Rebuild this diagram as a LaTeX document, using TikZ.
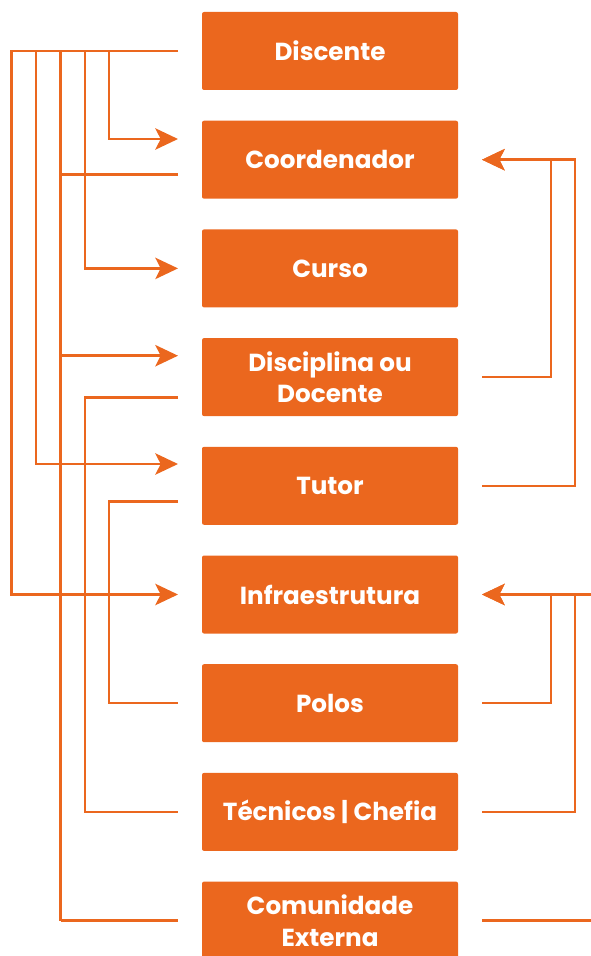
\documentclass[tikz,border=0pt]{standalone}
\usepackage{fontspec}
\setmainfont{Poppins}
\usepackage{tikz}
\usetikzlibrary{arrows.meta}
\definecolor{laranja}{RGB}{235,103,30}

\begin{document}
\begin{tikzpicture}[x=0.75pt,y=0.75pt,yscale=-1,xscale=1,
  caixa/.style={fill=laranja,rounded corners=1.5pt,text=white,font=\bfseries\fontsize{18.5}{23.5}\selectfont,
    minimum width=192pt,minimum height=58.5pt,align=center,inner sep=0pt,outer xsep=18pt,outer ysep=0pt},
  liga/.style={draw=laranja,line width=1.9pt},
  seta/.style={liga,-{Stealth[length=17pt,width=16pt,inset=4pt]}}]
\useasboundingbox (0,0) rectangle (591,956);
% caixas
\node[caixa] (dis) at (330,51) {Discente};
\node[caixa] (coo) at (330,159.7) {Coordenador};
\node[caixa] (cur) at (330,268.4) {Curso};
\node[caixa] (dsc) at (330,377.1) {Disciplina ou\\Docente};
\node[caixa] (tut) at (330,485.8) {Tutor};
\node[caixa] (inf) at (330,594.5) {Infraestrutura};
\node[caixa] (pol) at (330,703.2) {Polos};
\node[caixa] (tec) at (330,811.9) {Técnicos | Chefia};
\node[caixa] (com) at (330,920.6) {Comunidade\\Externa};
% barramentos
\coordinate (xa) at (11.5,0);
\coordinate (xb) at (36,0);
\coordinate (xc) at (60.5,0);
\coordinate (xd) at (85,0);
\coordinate (xe) at (109,0);
\coordinate (xf) at (551,0);
\coordinate (xg) at (575,0);
\coordinate (borda) at (591,0);
% pontos de chegada e saida deslocados
\coordinate (coo-in) at (coo.west |- 0,139);
\coordinate (coo-out) at (coo.west |- 0,174.3);
\coordinate (dsc-in) at (dsc.west |- 0,355.7);
\coordinate (dsc-out) at (dsc.west |- 0,397.7);
\coordinate (tut-in) at (tut.west |- 0,464);
\coordinate (tut-out) at (tut.west |- 0,501.3);
% lado esquerdo
\draw[seta] (dis.west) -- (dis.west -| xa) |- (inf.west);
\draw[seta] (dis.west -| xb) |- (tut-in);
\draw[liga] (dis.west -| xc) -- (com.west -| xc);
\draw[seta] (dsc-in -| xc) -- (dsc-in);
\draw[liga] (coo-out) -- (coo-out -| xc);
\draw[liga] (com.west -| xc) -- (com.west);
\draw[seta] (dis.west -| xd) |- (cur.west);
\draw[seta] (dis.west -| xe) |- (coo-in);
\draw[liga] (dsc-out) -| (xd |- tec.west) -- (tec.west);
\draw[liga] (tut-out) -| (xe |- pol.west) -- (pol.west);
% lado direito
\draw[seta] (dsc.east) -| (xf |- coo.east) -- (coo.east);
\draw[seta] (tut.east) -| (xg |- coo.east) -- (coo.east);
\draw[seta] (pol.east) -| (xf |- inf.east) -- (inf.east);
\draw[seta] (tec.east) -| (xg |- inf.east) -- (inf.east);
\draw[liga] (inf.east -| borda) -- (inf.east -| xg);
\draw[liga] (com.east) -- (com.east -| borda);
\end{tikzpicture}
\end{document}
